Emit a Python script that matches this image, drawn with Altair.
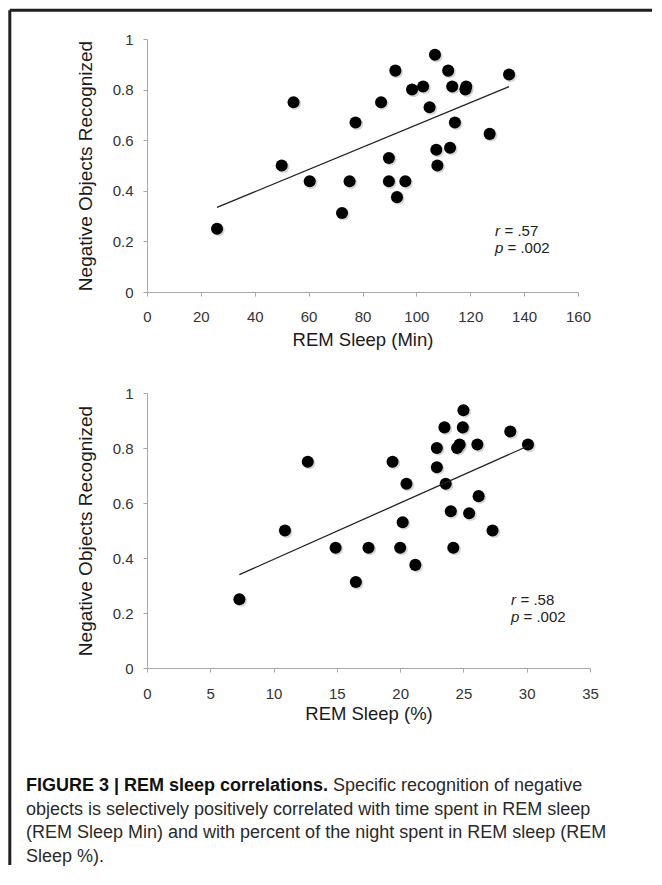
import altair as alt
import pandas as pd

# ---- data ----
rem_min = [26.0, 50.0, 54.4, 60.4, 72.4, 75.2, 77.4, 86.9, 89.8, 89.8, 92.2, 92.8, 95.9,
           98.4, 102.5, 104.9, 106.9, 107.4, 107.8, 111.8, 112.5, 113.3, 114.3, 118.2,
           118.5, 127.2, 134.4]
neg_top = [0.25, 0.50, 0.75, 0.4375, 0.3125, 0.4375, 0.67, 0.75, 0.53, 0.4375, 0.875,
           0.375, 0.4375, 0.80, 0.8125, 0.73, 0.9375, 0.5625, 0.50, 0.875, 0.57, 0.8125,
           0.67, 0.80, 0.8125, 0.625, 0.86]

rem_pct = [7.3, 10.9, 12.7, 14.9, 16.5, 17.5, 19.4, 20.0, 20.2, 20.5, 21.2, 22.9, 22.9,
           23.5, 23.6, 24.0, 24.2, 24.5, 24.7, 24.95, 25.0, 25.45, 26.1, 26.2, 27.3,
           28.7, 30.1]
neg_bot = [0.25, 0.50, 0.75, 0.4375, 0.3125, 0.4375, 0.75, 0.4375, 0.53, 0.67, 0.375,
           0.80, 0.73, 0.875, 0.67, 0.57, 0.4375, 0.80, 0.8125, 0.875, 0.9375, 0.5625,
           0.8125, 0.625, 0.50, 0.86, 0.8125]

y_ticks = [0, 0.2, 0.4, 0.6, 0.8, 1]
x_ticks_top = [0, 20, 40, 60, 80, 100, 120, 140, 160]
x_ticks_bot = [0, 5, 10, 15, 20, 25, 30, 35]

y_title = "Negative Objects Recognized"
x_title_top = "REM Sleep (Min)"
x_title_bot = "REM Sleep (%)"
stats_top = ["r", "= .57", "p", "= .002"]
stats_bot = ["r", "= .58", "p", "= .002"]

caption_bold = "FIGURE 3 | REM sleep correlations."
caption_lines = [
    "Specific recognition of negative",
    "objects is selectively positively correlated with time spent in REM sleep",
    "(REM Sleep Min) and with percent of the night spent in REM sleep (REM",
    "Sleep %).",
]

FONT = "Liberation Sans"
one = pd.DataFrame({"k": [0]})


def axis_x(values, pad, tpad):
    return alt.Axis(values=values, grid=False, tickSize=4, labelPadding=pad,
                    labelFlush=False, labelFontSize=15, titleFontSize=18.5,
                    titleFontWeight="normal", titlePadding=tpad, labelFont=FONT,
                    titleFont=FONT, domainColor="#a8a8a8", tickColor="#a8a8a8",
                    labelColor="#333333", titleColor="#1a1a1a")


def axis_y():
    return alt.Axis(values=y_ticks, format="~g", grid=False, tickSize=4,
                    labelPadding=10, labelFontSize=15, titleFontSize=19,
                    titleFontWeight="normal", titlePadding=17, labelFont=FONT,
                    titleFont=FONT, domainColor="#a8a8a8", tickColor="#a8a8a8",
                    labelColor="#333333", titleColor="#1a1a1a")


def txt(text, x, y, size=15, style="normal", weight="normal", color="#222222"):
    return alt.Chart(one).mark_text(
        text=text, align="left", baseline="alphabetic", font=FONT, fontSize=size,
        fontStyle=style, fontWeight=weight, color=color
    ).encode(x=alt.value(x), y=alt.value(y))


def panel(xs, ys, domain, ticks, xtitle, stats, w, h, sx, sy, lpad, tpad):
    df = pd.DataFrame({"x": xs, "y": ys})
    xenc = alt.X("x:Q", scale=alt.Scale(domain=domain, nice=False),
                 axis=axis_x(ticks, lpad, tpad), title=xtitle)
    yenc = alt.Y("y:Q", scale=alt.Scale(domain=[0, 1], nice=False),
                 axis=axis_y(), title=y_title)
    base = alt.Chart(df).encode(x=xenc, y=yenc)
    shadow = base.mark_circle(size=150, color="#888888", opacity=0.35,
                              xOffset=1.5, yOffset=1.5)
    pts = base.mark_circle(size=145, color="black", opacity=1)
    line = base.transform_regression("x", "y").mark_line(color="#222222",
                                                         strokeWidth=1.3)
    layers = [shadow, pts, line,
              txt(stats[0], sx, sy, style="italic"),
              txt(stats[1], sx + 9.5, sy),
              txt(stats[2], sx, sy + 17, style="italic"),
              txt(stats[3], sx + 12.5, sy + 17)]
    return layers, w, h


top_layers, tw, th = panel(rem_min, neg_top, [0, 160], x_ticks_top, x_title_top,
                           stats_top, 431, 253, 348, 197, 13, 6)
frame_h = alt.Chart(one).mark_rule(color="#231f20", strokeWidth=3).encode(
    x=alt.value(-137.2), x2=alt.value(505), y=alt.value(-28.8))
frame_v = alt.Chart(one).mark_rule(color="#231f20", strokeWidth=3).encode(
    x=alt.value(-137.2), y=alt.value(-28.8), y2=alt.value(826))
top = alt.layer(frame_h, frame_v, *top_layers).properties(width=tw, height=th)

bot_layers, bw, bh = panel(rem_pct, neg_bot, [0, 35], x_ticks_bot, x_title_bot,
                           stats_bot, 443, 275, 364, 212, 14, 3)
cap = [txt(caption_bold, -121, 397.7, size=18, weight="bold", color="#111111"),
       txt(caption_lines[0], 186, 397.7, size=18, color="#2a2a2a")]
for i, line_text in enumerate(caption_lines[1:]):
    cap.append(txt(line_text, -121, 421.7 + 23.5 * i, size=18, color="#2a2a2a"))
bottom = alt.layer(*bot_layers, *cap).properties(width=bw, height=bh)

chart = alt.vconcat(top, bottom, spacing=101, bounds="flush").properties(
    padding=0, background="white"
).configure_view(strokeWidth=0)

chart.save("out.html", embed_options={"renderer": "svg", "actions": False})
